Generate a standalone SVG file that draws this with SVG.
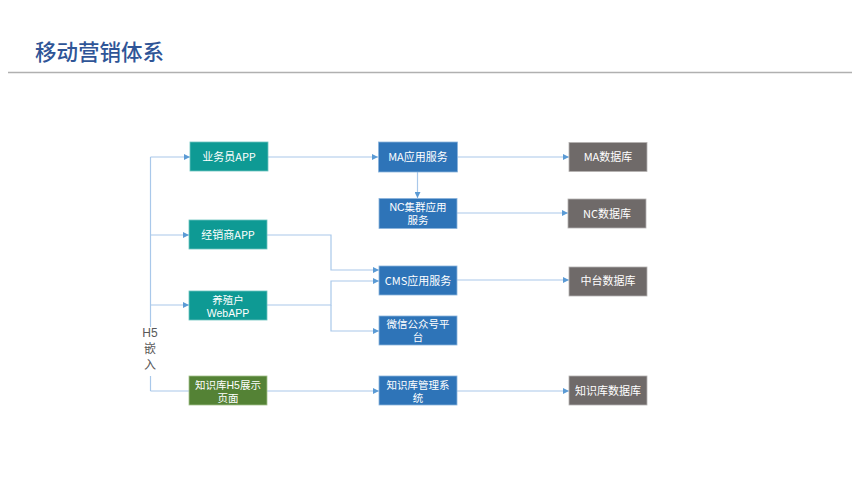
<svg xmlns="http://www.w3.org/2000/svg" width="860" height="484" viewBox="0 0 860 484">
<defs>
<style>
.t{font-family:"Noto Sans CJK SC","Liberation Sans",sans-serif;font-size:11px;fill:#ffffff;text-anchor:middle}
.t2{font-family:"Liberation Sans","Noto Sans CJK SC",sans-serif;font-size:10.5px;fill:#ffffff;text-anchor:middle}
.h{font-family:"Liberation Sans","Noto Sans CJK SC",sans-serif;font-size:12px;fill:#595959;text-anchor:middle}
.teal{fill:#0e9a94;stroke:#6cc4bf;stroke-width:0.8}
.blue{fill:#2e74b8;stroke:#8ab4dd;stroke-width:0.8}
.green{fill:#548235;stroke:#a3c08c;stroke-width:0.8}
.gray{fill:#6f6a69;stroke:#b5b2b1;stroke-width:0.8}
.c{fill:none;stroke:#a9c8ea;stroke-width:1.2}
.a{marker-end:url(#ah)}
</style>
<marker id="ah" viewBox="0 0 6 6" refX="6" refY="3" markerWidth="6" markerHeight="6" markerUnits="userSpaceOnUse" orient="auto">
<path d="M0,0 L6,3 L0,6 Z" fill="#5b9bd5"/>
</marker>
</defs>
<rect width="860" height="484" fill="#ffffff"/>
<text x="35" y="60" font-family="'Noto Sans CJK SC',sans-serif" font-size="21.5" font-weight="500" fill="#2f5597">移动营销体系</text>
<line x1="8" y1="72.5" x2="852" y2="72.5" stroke="#b0b0b0" stroke-width="1.5"/>

<g id="connectors">
<path class="c" d="M150.5,157 V391"/>
<path class="c a" d="M150.5,157 H190"/>
<path class="c a" d="M150.5,235 H189"/>
<path class="c a" d="M150.5,305 H189"/>
<path class="c" d="M150.5,391 H189"/>
<path class="c a" d="M268,157 H378"/>
<path class="c a" d="M417.5,172 V198"/>
<path class="c a" d="M457,157 H569"/>
<path class="c a" d="M457,213 H568"/>
<path class="c a" d="M267,235 H331 V270 H379"/>
<path class="c a" d="M267,305 H331 V281 H379"/>
<path class="c a" d="M331,305 V331 H379"/>
<path class="c a" d="M457,280 H569"/>
<path class="c a" d="M267,391 H379"/>
<path class="c a" d="M457,391 H569"/>
</g>

<g id="h5label">
<rect x="140" y="327" width="21" height="49" fill="#ffffff"/>
<text class="h" x="150" y="337">H5</text>
<text class="h" x="150" y="353">嵌</text>
<text class="h" x="150" y="369">入</text>
</g>

<g id="app-salesman"><rect class="teal" x="190" y="142" width="78" height="29"/><text class="t" x="229" y="160.5">业务员APP</text></g>
<g id="app-dealer"><rect class="teal" x="189" y="220" width="78" height="29"/><text class="t" x="228" y="238.5">经销商APP</text></g>
<g id="app-farmer"><rect class="teal" x="189" y="291" width="78" height="29"/><text class="t2" x="228" y="304">养殖户</text><text class="t2" x="228" y="317">WebAPP</text></g>
<g id="kb-h5"><rect class="green" x="189" y="376" width="78" height="29"/><text class="t2" x="228" y="388.5">知识库H5展示</text><text class="t2" x="228" y="401.5">页面</text></g>

<g id="ma-service"><rect class="blue" x="378.5" y="142" width="79" height="30"/><text class="t" x="418" y="161">MA应用服务</text></g>
<g id="nc-service"><rect class="blue" x="379" y="198.5" width="78" height="30"/><text class="t2" x="418" y="211">NC集群应用</text><text class="t2" x="418" y="224">服务</text></g>
<g id="cms-service"><rect class="blue" x="379" y="266" width="78" height="29"/><text class="t" x="418" y="284.5">CMS应用服务</text></g>
<g id="wechat"><rect class="blue" x="379" y="316" width="78" height="29"/><text class="t2" x="418" y="328">微信公众号平</text><text class="t2" x="418" y="341">台</text></g>
<g id="kb-system"><rect class="blue" x="379" y="376" width="78" height="29"/><text class="t2" x="418" y="388.5">知识库管理系</text><text class="t2" x="418" y="401.5">统</text></g>

<g id="ma-db"><rect class="gray" x="569" y="142.5" width="78" height="29"/><text class="t" x="608" y="161">MA数据库</text></g>
<g id="nc-db"><rect class="gray" x="568" y="199" width="78" height="29"/><text class="t" x="607" y="217.5">NC数据库</text></g>
<g id="zt-db"><rect class="gray" x="569" y="267" width="78" height="29"/><text class="t" x="608" y="285">中台数据库</text></g>
<g id="kb-db"><rect class="gray" x="569" y="376" width="78" height="29"/><text class="t" x="608" y="394.5">知识库数据库</text></g>
</svg>
